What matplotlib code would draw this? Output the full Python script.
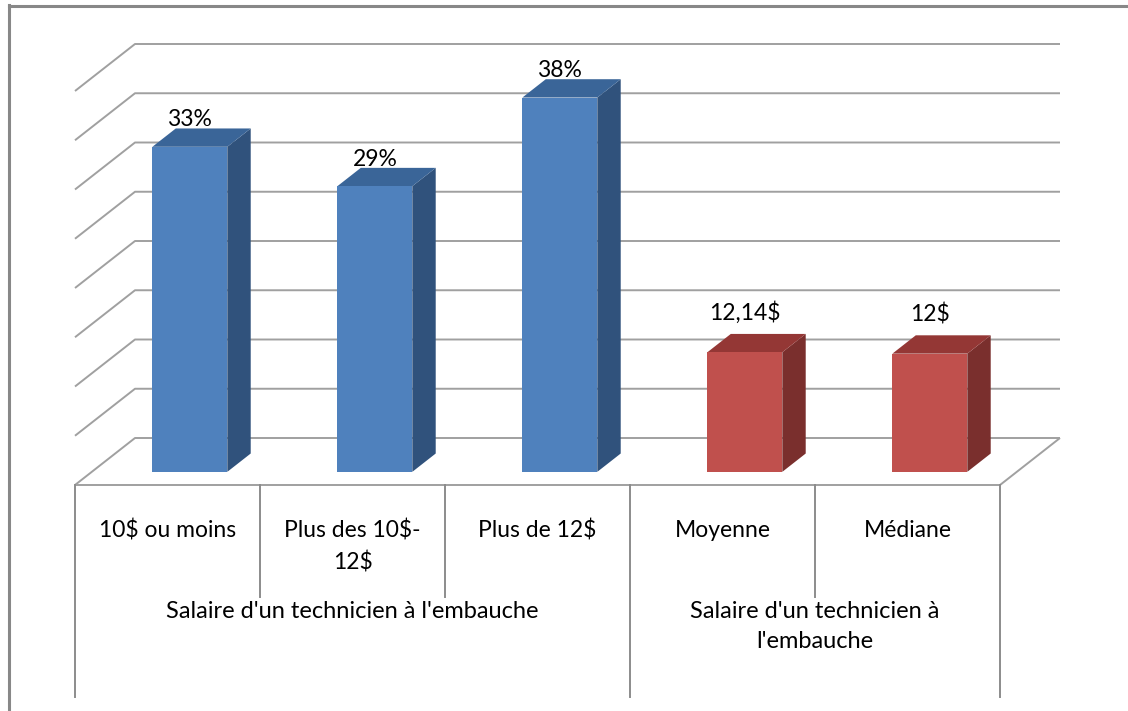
import numpy as np
import matplotlib.pyplot as plt
from matplotlib.patches import Polygon, Rectangle
from matplotlib.lines import Line2D

plt.rcParams['font.family'] = ['Lato', 'DejaVu Sans']

# data
categories = ["10$ ou moins", "Plus des 10$-\n12$", "Plus de 12$", "Moyenne", "Médiane"]
values = [33, 29, 38, 12.14, 12]
value_labels = ["33%", "29%", "38%", "12,14$", "12$"]
series = [0, 0, 0, 1, 1]
groups = ["Salaire d'un technicien à l'embauche", "Salaire d'un technicien à\nl'embauche"]
group_spans = [(0, 2), (3, 4)]
grid_ticks = np.arange(0, 45, 5)

front_colors = ['#4f81bd', '#c0504d']
side_colors = ['#30527c', '#7a2f2d']
top_colors = ['#3a6598', '#943735']
label_offsets = [19.5, 28.5]  # points above bar top, per series

W, H = 1128, 711
fig = plt.figure(figsize=(W / 100, H / 100), dpi=100)
ax = fig.add_axes([0, 0, 1, 1])

# map data units onto the picture
px_x, px_y = 185.0, 9.85
x0_px, y0_px = 75, 485
ax.set_xlim(-0.5 - x0_px / px_x, -0.5 + (W - x0_px) / px_x)
ax.set_ylim(-(H - y0_px) / px_y, y0_px / px_y)
ax.axis('off')

DX, DY = 60 / px_x, 47 / px_y   # depth of the floor
n = len(categories)
left, right = -0.5, n - 0.5

# walls and floor
grid_kw = dict(color='#a0a0a0', lw=1.4, zorder=1, solid_capstyle='butt')
for v in grid_ticks:
    ax.plot([left, left + DX, right + DX], [v + 0, v + DY, v + DY], **grid_kw)
ax.plot([left, right, right + DX], [0, 0, DY], **grid_kw)

# 3d-ish bars
f0, fd, bw, shift = 0.28, 0.39, 0.405, 0.03
ddx, ddy = fd * DX, fd * DY
for i, (v, s) in enumerate(zip(values, series)):
    xl = i - bw / 2 + f0 * DX + shift
    xr = xl + bw
    yb = f0 * DY
    yt = yb + v
    ax.add_patch(Polygon([(xr, yb), (xr + ddx, yb + ddy), (xr + ddx, yt + ddy), (xr, yt)],
                         closed=True, fc=side_colors[s], ec='none', zorder=3))
    ax.add_patch(Polygon([(xl, yt), (xr, yt), (xr + ddx, yt + ddy), (xl + ddx, yt + ddy)],
                         closed=True, fc=top_colors[s], ec='none', zorder=3))
    ax.add_patch(Rectangle((xl, yb), bw, v, fc=front_colors[s], ec='none', zorder=4))
    ax.annotate(value_labels[i], ((xl + xr) / 2, yt), xytext=(0, label_offsets[s]),
                textcoords='offset points', ha='center', va='center',
                fontsize=16.5, color='black', zorder=5)

# category table below the floor
line_kw = dict(color='#8c8c8c', lw=1.4)
y_short = -(597 - y0_px) / px_y
y_long = -(697 - y0_px) / px_y
group_edges = {group_spans[0][0] - 0.5} | {g[1] + 0.5 for g in group_spans}
for k in range(n + 1):
    b = k - 0.5
    ax.plot([b, b], [0, y_long if b in group_edges else y_short], **line_kw)

y_cat = -(520 - y0_px) / px_y
for i, c in enumerate(categories):
    ax.text(i, y_cat, c, ha='center', va='top', fontsize=16.5, linespacing=1.5)

y_grp = -(601 - y0_px) / px_y
for g, (a, b) in zip(groups, group_spans):
    ax.text((a + b) / 2, y_grp, g, ha='center', va='top', fontsize=17, linespacing=1.5)

# chart border (cropped on right and bottom)
fig.add_artist(Line2D([8.5 / W, 8.5 / W], [0, 1 - 5 / H], color='#888888', lw=2.2,
                      transform=fig.transFigure))
fig.add_artist(Line2D([8.5 / W, 1], [1 - 5.5 / H, 1 - 5.5 / H], color='#888888', lw=2.2,
                      transform=fig.transFigure))

fig.savefig('out.png', dpi=100)
